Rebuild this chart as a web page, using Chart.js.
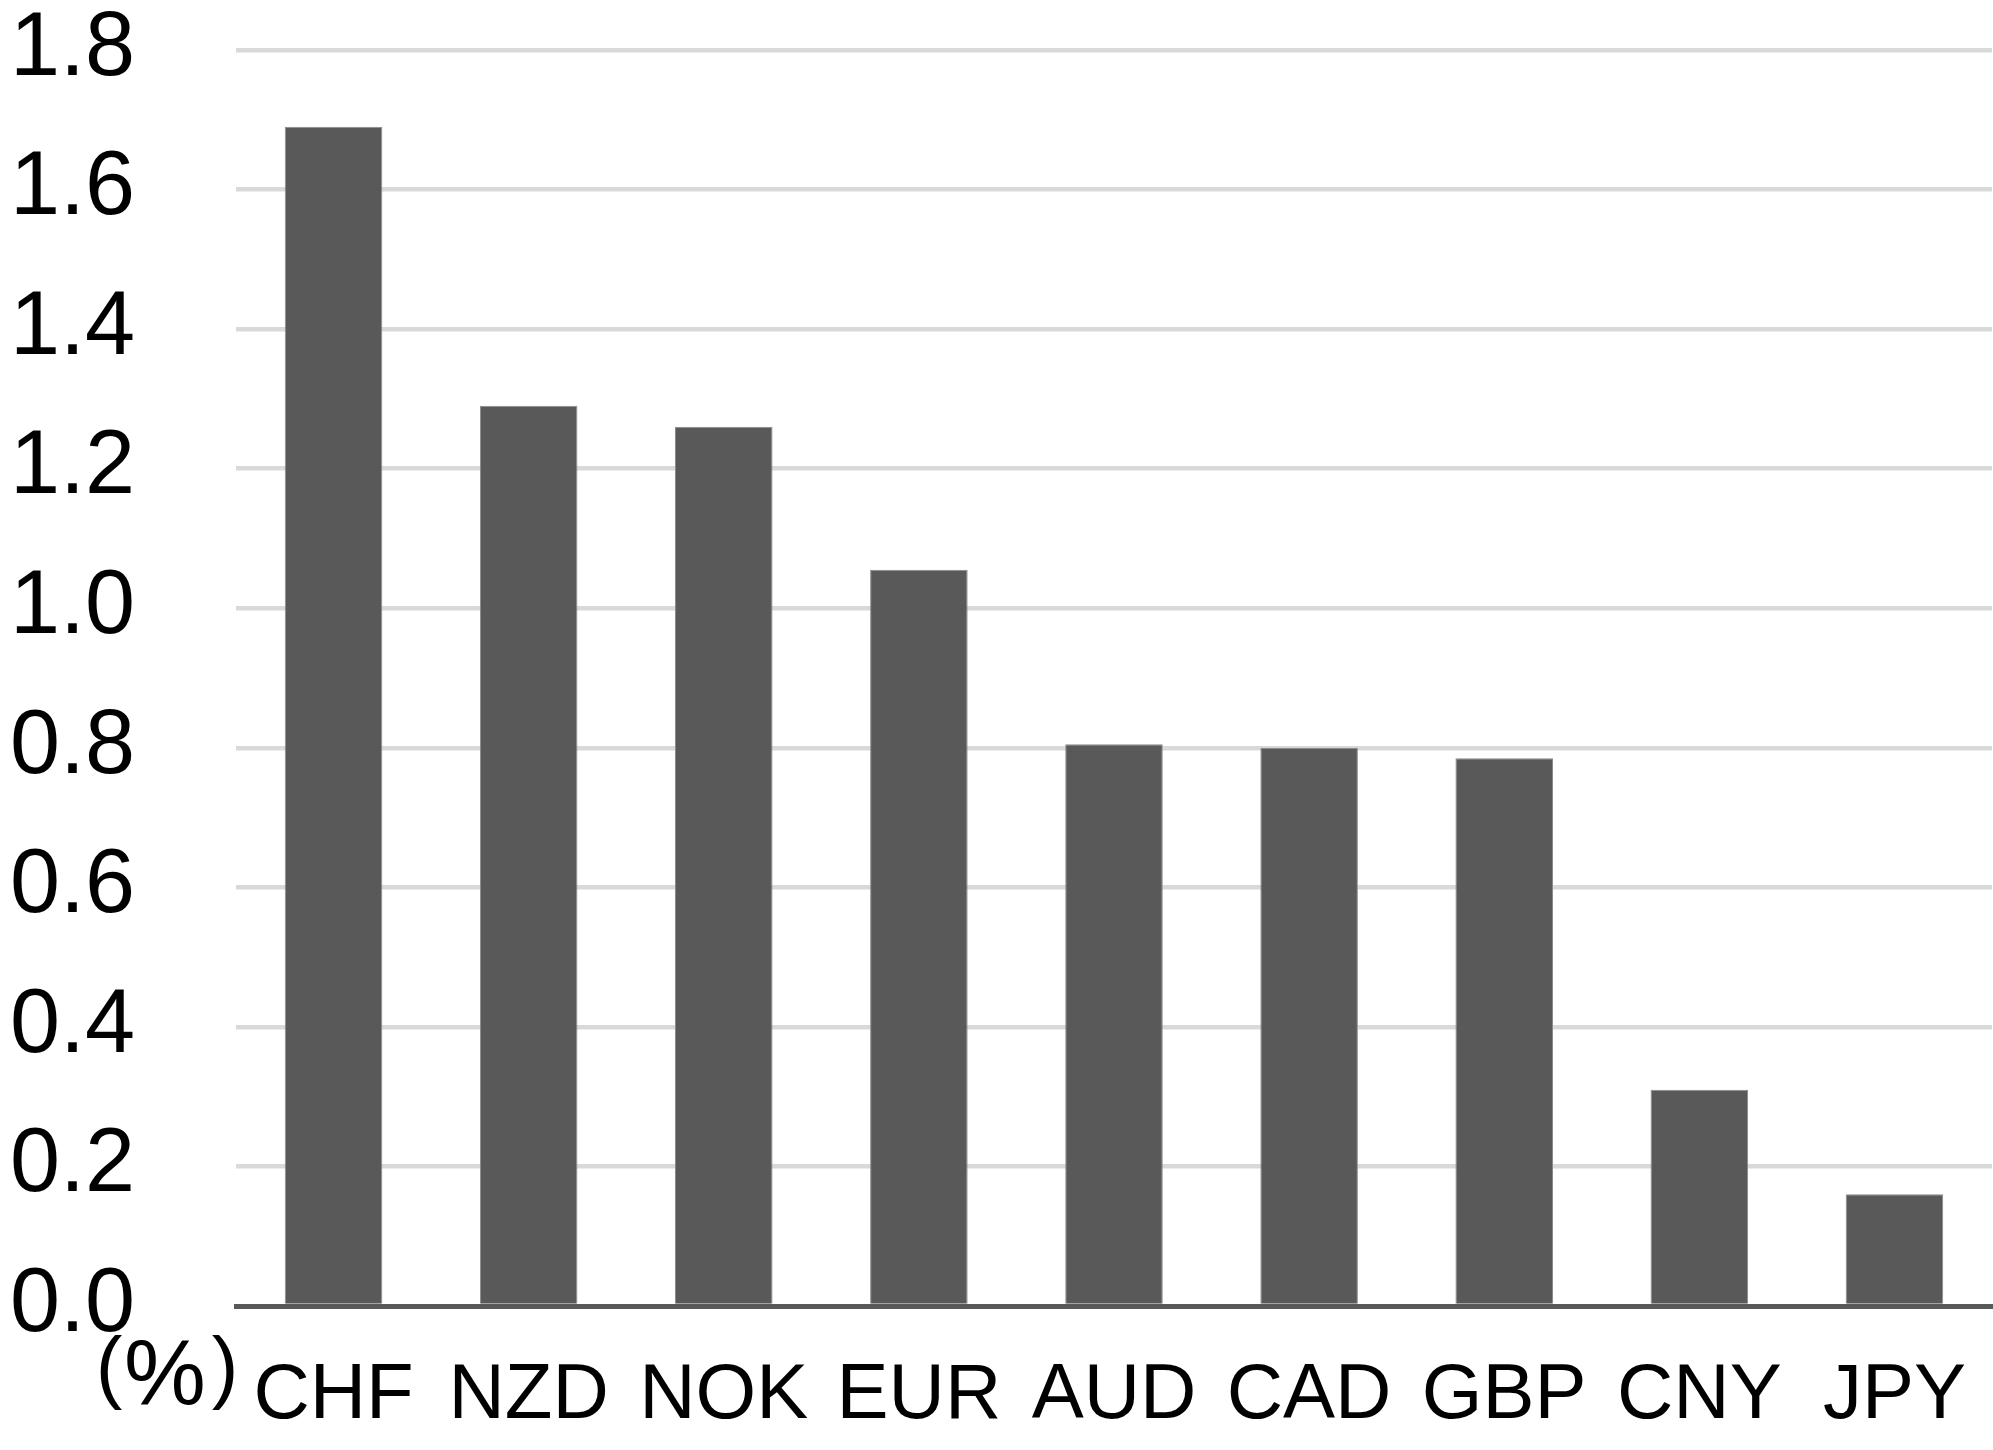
<!DOCTYPE html>
<html>
<head>
<meta charset="utf-8">
<script src="https://cdn.jsdelivr.net/npm/chart.js@4"></script>
<style>
    html, body { margin: 0; padding: 0; background: #fff; }
    #wrap { width: 1993px; height: 1450px; }
</style>
</head>
<body>
<div id="wrap"><canvas id="mainChart" width="1993" height="1450"></canvas></div>
<script>
// --- Data ---
const categories = ['CHF', 'NZD', 'NOK', 'EUR', 'AUD', 'CAD', 'GBP', 'CNY', 'JPY'];
const values = [1.69, 1.29, 1.26, 1.055, 0.805, 0.80, 0.785, 0.31, 0.16];
const yMin = 0;
const yMax = 1.8;
const yStep = 0.2;
const unitLabel = ['(', '%', ')'];

// draws the "(%)" unit under the y axis labels
const unitPlugin = {
    id: 'unitLabel',
    afterDraw(chart) {
        const ctx = chart.ctx;
        ctx.save();
        ctx.fillStyle = '#000';
        ctx.textAlign = 'center';
        ctx.textBaseline = 'alphabetic';
        ctx.font = '80px "Liberation Sans", Arial, sans-serif';
        ctx.fillText(unitLabel[0], 109, 1393);
        ctx.fillText(unitLabel[2], 225, 1393);
        ctx.font = '92px "Liberation Sans", Arial, sans-serif';
        ctx.fillText(unitLabel[1], 165, 1404);
        ctx.restore();
    }
};

const ctx = document.getElementById('mainChart').getContext('2d');
new Chart(ctx, {
    type: 'bar',
    data: {
        labels: categories,
        datasets: [{
            data: values,
            backgroundColor: '#595959',
            borderColor: '#8a8a8a',
            borderWidth: 1,
            categoryPercentage: 1.0,
            barPercentage: 0.5
        }]
    },
    options: {
        responsive: false,
        animation: false,
        devicePixelRatio: 1,
        layout: { padding: { top: 50, right: 1, bottom: 0, left: 10 } },
        plugins: {
            legend: { display: false },
            tooltip: { enabled: false }
        },
        scales: {
            x: {
                afterFit: (s) => { s.height = 144; },
                grid: { display: false, drawTicks: false },
                border: { display: true, color: '#595959', width: 5 },
                ticks: {
                    padding: 0,
                    color: '#000',
                    font: { family: '"Liberation Sans", Arial, sans-serif', size: 78, lineHeight: 2.32 }
                }
            },
            y: {
                min: yMin,
                max: yMax,
                afterFit: (s) => { s.width = 226; },
                border: { display: false },
                grid: {
                    drawTicks: false,
                    lineWidth: 4.5,
                    color: (c) => c.tick && c.tick.value === 0 ? 'rgba(0,0,0,0)' : '#d9d9d9'
                },
                ticks: {
                    stepSize: yStep,
                    padding: 0,
                    crossAlign: 'far',
                    color: '#000',
                    font: { family: '"Liberation Sans", Arial, sans-serif', size: 90, lineHeight: 1 },
                    callback: (v) => Number(v).toFixed(1)
                }
            }
        }
    },
    plugins: [unitPlugin]
});
</script>
</body>
</html>
